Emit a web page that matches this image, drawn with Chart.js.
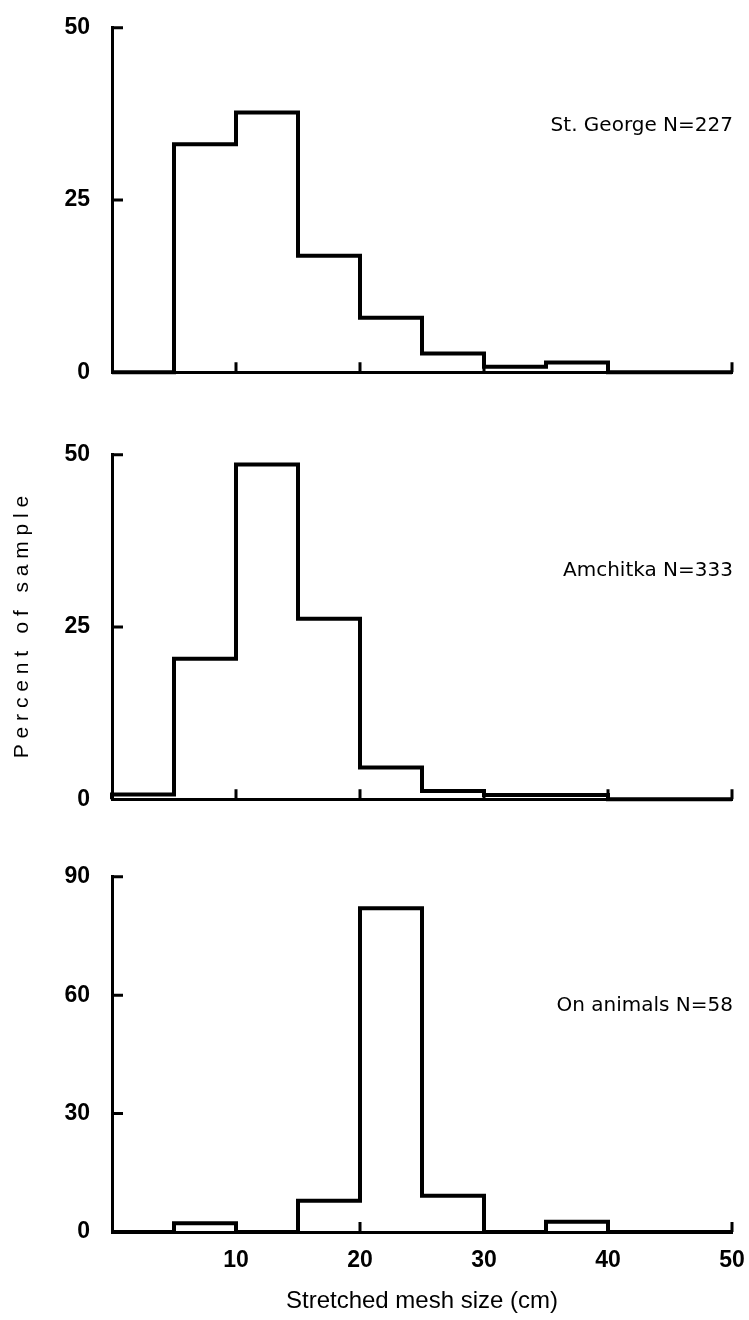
<!DOCTYPE html>
<html>
<head>
<meta charset="utf-8">
<script src="https://cdn.jsdelivr.net/npm/chart.js@4.4.0/dist/chart.umd.min.js"></script>
<style>
  html, body { margin: 0; padding: 0; background: #fff; }
  #page { position: relative; width: 749px; height: 1320px; }
  canvas { position: absolute; left: 0; }
</style>
</head>
<body>
<div id="page">
  <canvas id="stGeorge" width="749" height="400" style="top:0px"></canvas>
  <canvas id="amchitka" width="749" height="400" style="top:427px"></canvas>
  <canvas id="onAnimals" width="749" height="471" style="top:849px"></canvas>
</div>
<script>
// bin edges of stretched mesh size (cm), 5 cm bins
var binEdges = [0, 5, 10, 15, 20, 25, 30, 35, 40, 45, 50];

// percent of sample per bin
var stGeorge = [0, 33.1, 37.7, 16.9, 7.9, 2.7, 0.8, 1.4, 0, 0];
var amchitka = [0.7, 20.4, 48.6, 26.2, 4.6, 1.2, 0.6, 0.6, 0, 0];
var onAnimals = [0, 2.2, 0, 7.9, 82, 9.2, 0, 2.6, 0, 0];

var panelLabels = ['St. George N=227', 'Amchitka N=333', 'On animals N=58'];
var yTitle = 'P e r c e n t   o f   s a m p l e';
var xTitle = 'Stretched mesh size (cm)';

// outline of a histogram: one point per bin edge, stepped line
function stepPoints(vals) {
    var pts = [{x: binEdges[0], y: 0}];
    vals.forEach(function (v, i) {
        pts.push({x: binEdges[i], y: v});
    });
    var last = binEdges[vals.length];
    pts.push({x: last, y: vals[vals.length - 1]});
    pts.push({x: last, y: 0});
    return pts;
}

// ticks drawn on the inside of the axes, like the original
var inwardTicks = {
    id: 'inwardTicks',
    afterDatasetsDraw: function (chart) {
        var ctx = chart.ctx, area = chart.chartArea;
        var xs = chart.scales.x, ys = chart.scales.y;
        ctx.save();
        ctx.strokeStyle = '#000';
        ctx.lineWidth = 3;
        ctx.beginPath();
        ys.ticks.forEach(function (t) {
            if (t.value === 0) return;
            var py = ys.getPixelForValue(t.value);
            ctx.moveTo(area.left, py);
            ctx.lineTo(area.left + 11, py);
        });
        xs.ticks.forEach(function (t) {
            if (t.value === 0) return;
            var px = xs.getPixelForValue(t.value);
            ctx.moveTo(px, area.bottom);
            ctx.lineTo(px, area.bottom - 10);
        });
        ctx.stroke();
        ctx.restore();
    }
};

var panelLabel = {
    id: 'panelLabel',
    afterDraw: function (chart, args, opts) {
        var ctx = chart.ctx, area = chart.chartArea;
        ctx.save();
        ctx.font = '20px "DejaVu Sans"';
        ctx.fillStyle = '#000';
        ctx.textAlign = 'right';
        ctx.textBaseline = 'alphabetic';
        ctx.fillText(opts.text, area.right + 1, area.top + opts.dy);
        ctx.restore();
    }
};

function makePanel(id, vals, yMax, yStep, label, labelDy, bottom) {
    var ctx = document.getElementById(id).getContext('2d');
    return new Chart(ctx, {
        type: 'line',
        data: {
            datasets: [{
                data: stepPoints(vals),
                stepped: true,
                borderColor: '#000',
                borderWidth: 4,
                borderJoinStyle: 'miter',
                pointRadius: 0,
                fill: false,
                clip: false
            }]
        },
        options: {
            responsive: false,
            animation: false,
            layout: {padding: {top: 20, right: 17, left: 0, bottom: 0}},
            plugins: {
                legend: {display: false},
                tooltip: {enabled: false},
                panelLabel: {text: label, dy: labelDy}
            },
            scales: {
                x: {
                    type: 'linear',
                    min: 0,
                    max: 50,
                    grid: {display: false},
                    border: {display: true, color: '#000', width: 3},
                    ticks: {
                        display: bottom.showX,
                        stepSize: 10,
                        padding: 7,
                        color: '#000',
                        font: {family: 'Liberation Sans', size: 23, weight: 'bold'},
                        callback: function (v) { return v === 0 ? '' : v; }
                    },
                    title: {
                        display: bottom.showX,
                        text: xTitle,
                        color: '#000',
                        font: {family: 'Liberation Sans', size: 24},
                        padding: {top: 0, bottom: 4}
                    },
                    afterFit: function (scale) {
                        scale.height = bottom.xHeight;
                        scale.paddingLeft = 0;
                        scale.paddingRight = 0;
                    }
                },
                y: {
                    min: 0,
                    max: yMax,
                    grid: {display: false},
                    border: {display: true, color: '#000', width: 3},
                    ticks: {
                        stepSize: yStep,
                        padding: 14,
                        color: '#000',
                        font: {family: 'Liberation Sans', size: 23, weight: 'bold'}
                    },
                    title: {
                        display: bottom.showY,
                        text: yTitle,
                        color: '#000',
                        font: {family: 'Liberation Sans', size: 21},
                        padding: {top: 10, bottom: 0}
                    },
                    afterFit: function (scale) { scale.width = 112; }
                }
            }
        },
        plugins: [inwardTicks, panelLabel]
    });
}

makePanel('stGeorge', stGeorge, 50, 25, panelLabels[0], 103, {showX: false, showY: false, xHeight: 19});
makePanel('amchitka', amchitka, 50, 25, panelLabels[1], 121, {showX: false, showY: true, xHeight: 20});
makePanel('onAnimals', onAnimals, 90, 30, panelLabels[2], 134, {showX: true, showY: false, xHeight: 88});
</script>
</body>
</html>
